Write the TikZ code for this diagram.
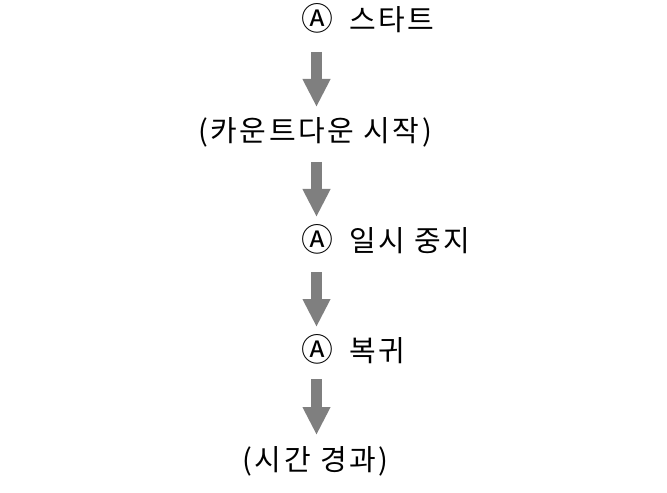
\documentclass[tikz,border=0pt]{standalone}
\usepackage{fontspec}
\setmainfont{Noto Sans CJK KR}
\usetikzlibrary{arrows.meta}
\definecolor{arrowgray}{HTML}{7F7F7F}
\newcommand{\circA}{\scalebox{1.1}{Ⓐ}}
\tikzset{
  lbl/.style={inner sep=0pt, font=\fontsize{29bp}{34bp}\selectfont\addfontfeature{LetterSpace=9}, text height=21bp, text depth=4bp},
  bigarrow/.style={draw=arrowgray, line width=11bp, -{Triangle[width=26bp,length=28bp]}},
}
\begin{document}
\begin{tikzpicture}[x=1bp,y=-1bp]
\useasboundingbox (0,0) rectangle (667,493);
\coordinate (ax) at (316.5,0);
\node[lbl, anchor=west] (t1) at (301,22) {\circA\hspace{0.55em}스타트};
\node[lbl] (t2) at (315,133) {(카운트다운 시작)};
\node[lbl, anchor=west] (t3) at (301,243) {\circA\hspace{0.55em}일시 중지};
\node[lbl, anchor=west] (t4) at (301,353) {\circA\hspace{0.55em}복귀};
\node[lbl] (t5) at (315.5,462) {(시간 경과)};
\draw[bigarrow, shorten <=30bp, shorten >=26bp] (t1.center -| ax) -- (t2.center -| ax);
\draw[bigarrow, shorten <=29bp, shorten >=26bp] (t2.center -| ax) -- (t3.center -| ax);
\draw[bigarrow, shorten <=29bp, shorten >=26bp] (t3.center -| ax) -- (t4.center -| ax);
\draw[bigarrow, shorten <=26bp, shorten >=27bp] (t4.center -| ax) -- (t5.center -| ax);
\end{tikzpicture}
\end{document}
